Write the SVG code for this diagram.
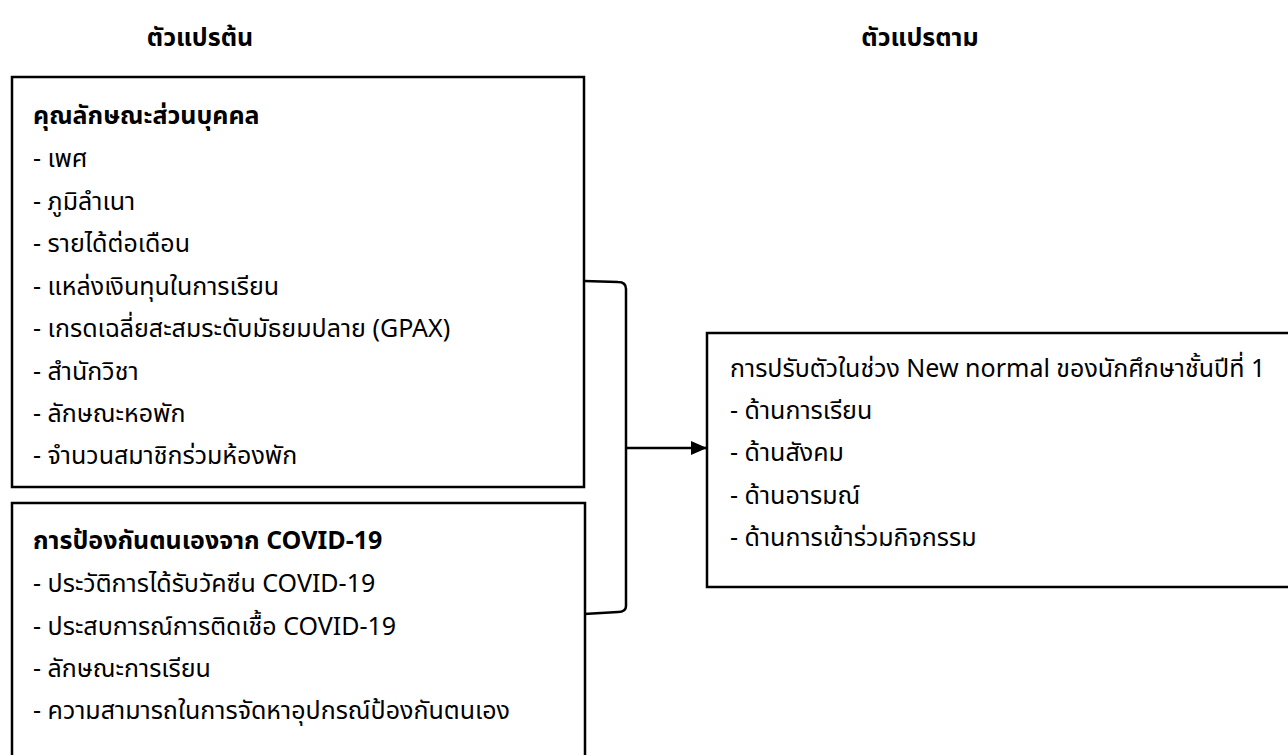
<svg xmlns="http://www.w3.org/2000/svg" width="1288" height="755" viewBox="0 0 1288 755">
<style>
text{font-family:"Noto Sans Thai","Leelawadee UI","Noto Sans","DejaVu Sans",sans-serif;font-size:25px;fill:#000}
.b{font-weight:bold}
.box{fill:#fff;stroke:#000;stroke-width:2.5}
.conn{fill:none;stroke:#000;stroke-width:2.5}
</style>
<defs>
<marker id="ah" markerWidth="16" markerHeight="14" refX="15" refY="7" orient="auto" markerUnits="userSpaceOnUse">
<path d="M0,0 L16,7 L0,14 Z" fill="#000"/>
</marker>
</defs>
<g id="titles">
<text class="b" x="200" y="46" text-anchor="middle">ตัวแปรต้น</text>
<text class="b" x="920" y="46" text-anchor="middle">ตัวแปรตาม</text>
</g>
<g id="connectors">
<path class="conn" d="M584,281 L618,282 Q626,282 626,289 L626,606 Q626,612 618,612 L584,614"/>
<line class="conn" x1="626" y1="448" x2="706" y2="448" marker-end="url(#ah)"/>
</g>
<g id="node-personal">
<rect class="box" x="12" y="77" width="572" height="410"/>
<text class="b" x="33" y="124">คุณลักษณะส่วนบุคคล</text>
<text x="33" y="167">- เพศ</text>
<text x="33" y="210">- ภูมิลำเนา</text>
<text x="33" y="252">- รายได้ต่อเดือน</text>
<text x="33" y="295">- แหล่งเงินทุนในการเรียน</text>
<text x="33" y="337">- เกรดเฉลี่ยสะสมระดับมัธยมปลาย (GPAX)</text>
<text x="33" y="380">- สำนักวิชา</text>
<text x="33" y="422">- ลักษณะหอพัก</text>
<text x="33" y="464">- จำนวนสมาชิกร่วมห้องพัก</text>
</g>
<g id="node-covid">
<rect class="box" x="12" y="503" width="573" height="270"/>
<text class="b" x="33" y="549">การป้องกันตนเองจาก COVID-19</text>
<text x="33" y="592">- ประวัติการได้รับวัคซีน COVID-19</text>
<text x="33" y="635">- ประสบการณ์การติดเชื้อ COVID-19</text>
<text x="33" y="677">- ลักษณะการเรียน</text>
<text x="33" y="719">- ความสามารถในการจัดหาอุปกรณ์ป้องกันตนเอง</text>
</g>
<g id="node-adapt">
<rect class="box" x="707" y="333" width="600" height="254"/>
<text x="730" y="377">การปรับตัวในช่วง New normal ของนักศึกษาชั้นปีที่ 1</text>
<text x="730" y="419">- ด้านการเรียน</text>
<text x="730" y="461">- ด้านสังคม</text>
<text x="730" y="504">- ด้านอารมณ์</text>
<text x="730" y="546">- ด้านการเข้าร่วมกิจกรรม</text>
</g>
</svg>
